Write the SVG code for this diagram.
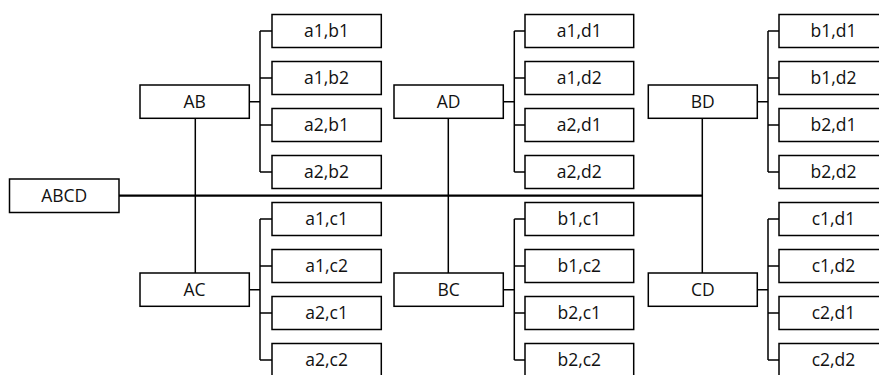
<svg xmlns="http://www.w3.org/2000/svg" width="879" height="375" viewBox="0 0 879 375">
<style>
.b{fill:#fff;stroke:#000;stroke-width:1.5}
.t{font-family:"Open Sans","Liberation Sans",sans-serif;font-size:17.5px;fill:#111;text-anchor:middle}
.c{fill:none;stroke:#000;stroke-width:1.5}
.m{fill:none;stroke:#000;stroke-width:2.2}
</style>
<rect width="879" height="375" fill="#fff"/>
<g id="connectors">
<path class="m" d="M119 195.7H702.3"/>
<path class="c" d="M195.3 118.3V273M448.3 118.3V273M702.3 118.3V273"/>
<path class="c" d="M249.3 101.7H260M260 31V172M260 31H272M260 78H272M260 125H272M260 172H272"/>
<path class="c" d="M249.3 289.7H260M260 219V360M260 219H272M260 266H272M260 313H272M260 360H272"/>
<path class="c" d="M503.3 101.7H514.3M514.3 31V172M514.3 31H525M514.3 78H525M514.3 125H525M514.3 172H525"/>
<path class="c" d="M503.3 289.7H514.3M514.3 219V360M514.3 219H525M514.3 266H525M514.3 313H525M514.3 360H525"/>
<path class="c" d="M757.3 101.7H768M768 31V172M768 31H779M768 78H779M768 125H779M768 172H779"/>
<path class="c" d="M757.3 289.7H768M768 219V360M768 219H779M768 266H779M768 313H779M768 360H779"/>
</g>
<g id="ABCD"><rect class="b" x="9.5" y="179" width="109.5" height="33.5"/><text class="t" x="64.2" y="202.3">ABCD</text></g>
<g id="AB"><rect class="b" x="140" y="85" width="109.3" height="33.3"/><text class="t" x="194.6" y="108.2">AB</text></g>
<g id="AC"><rect class="b" x="140" y="273" width="109.3" height="33.3"/><text class="t" x="194.6" y="296.2">AC</text></g>
<g id="AD"><rect class="b" x="394" y="85" width="109.3" height="33.3"/><text class="t" x="448.6" y="108.2">AD</text></g>
<g id="BC"><rect class="b" x="394" y="273" width="109.3" height="33.3"/><text class="t" x="448.6" y="296.2">BC</text></g>
<g id="BD"><rect class="b" x="648.3" y="85" width="109" height="33.3"/><text class="t" x="702.8" y="108.2">BD</text></g>
<g id="CD"><rect class="b" x="648.3" y="273" width="109" height="33.3"/><text class="t" x="702.8" y="296.2">CD</text></g>
<g id="a1b1"><rect class="b" x="272" y="14.5" width="109.3" height="33"/><text class="t" x="326.6" y="37.3">a1,b1</text></g>
<g id="a1b2"><rect class="b" x="272" y="61.5" width="109.3" height="33"/><text class="t" x="326.6" y="84.3">a1,b2</text></g>
<g id="a2b1"><rect class="b" x="272" y="108.5" width="109.3" height="33"/><text class="t" x="326.6" y="131.3">a2,b1</text></g>
<g id="a2b2"><rect class="b" x="272" y="155.5" width="109.3" height="33"/><text class="t" x="326.6" y="178.3">a2,b2</text></g>
<g id="a1c1"><rect class="b" x="272" y="202.5" width="109.3" height="33"/><text class="t" x="326.6" y="225.3">a1,c1</text></g>
<g id="a1c2"><rect class="b" x="272" y="249.5" width="109.3" height="33"/><text class="t" x="326.6" y="272.3">a1,c2</text></g>
<g id="a2c1"><rect class="b" x="272" y="296.5" width="109.3" height="33"/><text class="t" x="326.6" y="319.3">a2,c1</text></g>
<g id="a2c2"><rect class="b" x="272" y="343.5" width="109.3" height="33"/><text class="t" x="326.6" y="366.3">a2,c2</text></g>
<g id="a1d1"><rect class="b" x="525" y="14.5" width="108.7" height="33"/><text class="t" x="579.3" y="37.3">a1,d1</text></g>
<g id="a1d2"><rect class="b" x="525" y="61.5" width="108.7" height="33"/><text class="t" x="579.3" y="84.3">a1,d2</text></g>
<g id="a2d1"><rect class="b" x="525" y="108.5" width="108.7" height="33"/><text class="t" x="579.3" y="131.3">a2,d1</text></g>
<g id="a2d2"><rect class="b" x="525" y="155.5" width="108.7" height="33"/><text class="t" x="579.3" y="178.3">a2,d2</text></g>
<g id="b1c1"><rect class="b" x="525" y="202.5" width="108.7" height="33"/><text class="t" x="579.3" y="225.3">b1,c1</text></g>
<g id="b1c2"><rect class="b" x="525" y="249.5" width="108.7" height="33"/><text class="t" x="579.3" y="272.3">b1,c2</text></g>
<g id="b2c1"><rect class="b" x="525" y="296.5" width="108.7" height="33"/><text class="t" x="579.3" y="319.3">b2,c1</text></g>
<g id="b2c2"><rect class="b" x="525" y="343.5" width="108.7" height="33"/><text class="t" x="579.3" y="366.3">b2,c2</text></g>
<g id="b1d1"><rect class="b" x="779" y="14.5" width="109" height="33"/><text class="t" x="833.5" y="37.3">b1,d1</text></g>
<g id="b1d2"><rect class="b" x="779" y="61.5" width="109" height="33"/><text class="t" x="833.5" y="84.3">b1,d2</text></g>
<g id="b2d1"><rect class="b" x="779" y="108.5" width="109" height="33"/><text class="t" x="833.5" y="131.3">b2,d1</text></g>
<g id="b2d2"><rect class="b" x="779" y="155.5" width="109" height="33"/><text class="t" x="833.5" y="178.3">b2,d2</text></g>
<g id="c1d1"><rect class="b" x="779" y="202.5" width="109" height="33"/><text class="t" x="833.5" y="225.3">c1,d1</text></g>
<g id="c1d2"><rect class="b" x="779" y="249.5" width="109" height="33"/><text class="t" x="833.5" y="272.3">c1,d2</text></g>
<g id="c2d1"><rect class="b" x="779" y="296.5" width="109" height="33"/><text class="t" x="833.5" y="319.3">c2,d1</text></g>
<g id="c2d2"><rect class="b" x="779" y="343.5" width="109" height="33"/><text class="t" x="833.5" y="366.3">c2,d2</text></g>
</svg>
